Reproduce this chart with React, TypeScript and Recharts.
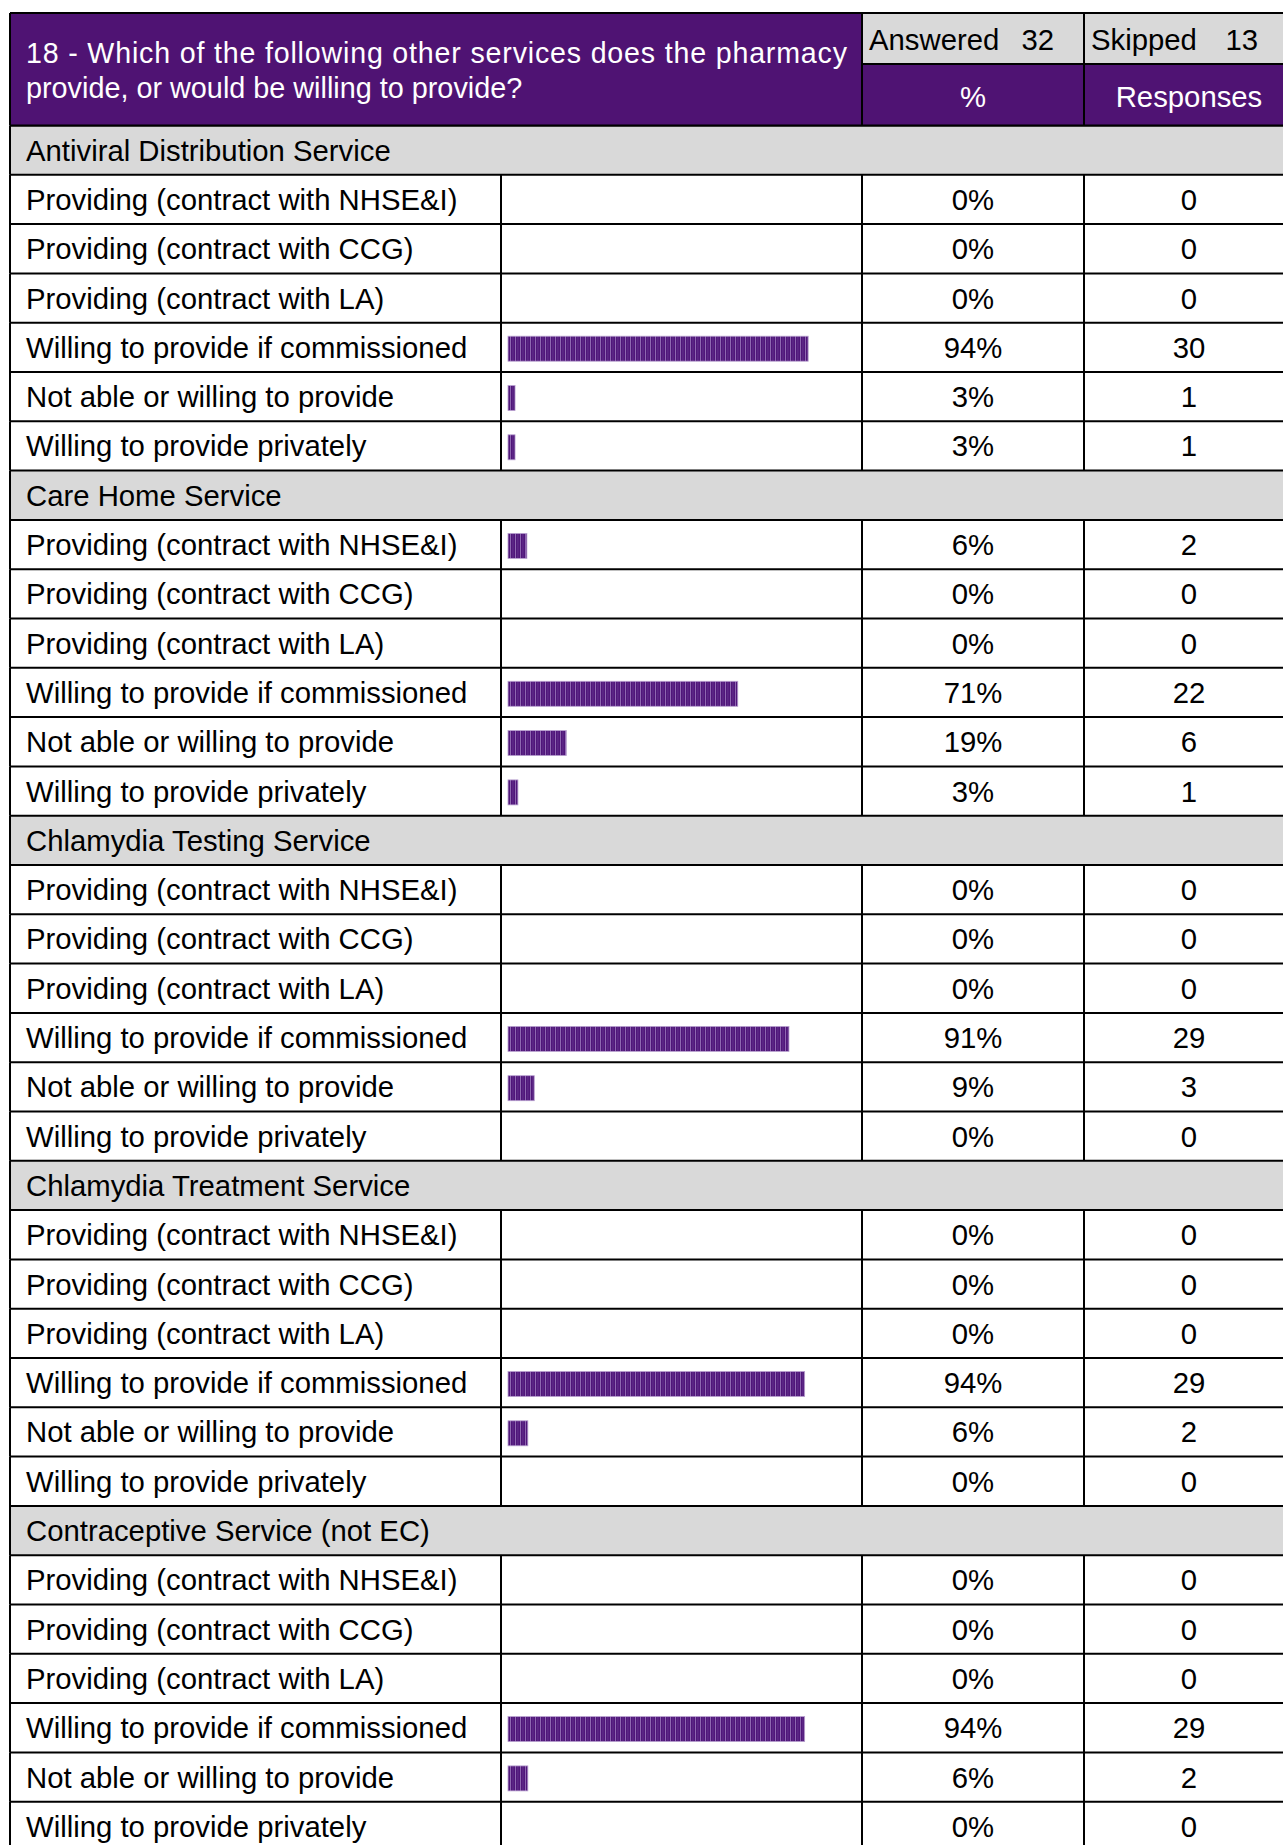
import React from 'react';
import { BarChart, Bar, XAxis, YAxis } from 'recharts';

// ---------- data ----------
const questionLine1 = '18 - Which of the following other services does the pharmacy';
const questionLine2 = 'provide, or would be willing to provide?';
const answeredLabel = 'Answered';
const answeredCount = '32';
const skippedLabel = 'Skipped';
const skippedCount = '13';
const pctHeader = '%';
const respHeader = 'Responses';

const sections = [
  'Antiviral Distribution Service',
  'Care Home Service',
  'Chlamydia Testing Service',
  'Chlamydia Treatment Service',
  'Contraceptive Service (not EC)',
];

const options = [
  'Providing (contract with NHSE&I)',
  'Providing (contract with CCG)',
  'Providing (contract with LA)',
  'Willing to provide if commissioned',
  'Not able or willing to provide',
  'Willing to provide privately',
];

const antiviralPct = ['0%', '0%', '0%', '94%', '3%', '3%'];
const careHomePct = ['6%', '0%', '0%', '71%', '19%', '3%'];
const testingPct = ['0%', '0%', '0%', '91%', '9%', '0%'];
const treatmentPct = ['0%', '0%', '0%', '94%', '6%', '0%'];
const contraceptivePct = ['0%', '0%', '0%', '94%', '6%', '0%'];

const antiviralResp = [0, 0, 0, 30, 1, 1];
const careHomeResp = [2, 0, 0, 22, 6, 1];
const testingResp = [0, 0, 0, 29, 3, 0];
const treatmentResp = [0, 0, 0, 29, 2, 0];
const contraceptiveResp = [0, 0, 0, 29, 2, 0];

// bar lengths (percent of full bar scale)
const antiviralBar = [0, 0, 0, 93.8, 2.2, 2.2];
const careHomeBar = [5.9, 0, 0, 71.8, 18.2, 3.1];
const testingBar = [0, 0, 0, 87.8, 8.2, 0];
const treatmentBar = [0, 0, 0, 92.7, 6.2, 0];
const contraceptiveBar = [0, 0, 0, 92.7, 6.2, 0];

const pctBySection = [antiviralPct, careHomePct, testingPct, treatmentPct, contraceptivePct];
const respBySection = [antiviralResp, careHomeResp, testingResp, treatmentResp, contraceptiveResp];
const barBySection = [antiviralBar, careHomeBar, testingBar, treatmentBar, contraceptiveBar];

type Row = {
  key: string;
  kind: 'section' | 'item';
  label: string;
  pct: string;
  resp: string;
  bar: number;
};

const rows: Row[] = [];
sections.forEach((s, si) => {
  rows.push({ key: `s${si}`, kind: 'section', label: s, pct: '', resp: '', bar: 0 });
  options.forEach((o, oi) => {
    rows.push({
      key: `s${si}o${oi}`,
      kind: 'item',
      label: o,
      pct: pctBySection[si][oi],
      resp: String(respBySection[si][oi]),
      bar: barBySection[si][oi],
    });
  });
});
const rowByKey: Record<string, Row> = {};
rows.forEach((r) => (rowByKey[r.key] = r));

// ---------- layout / style ----------
const W = 1283;
const H = 1845;
const TABLE_L = 10;
const TABLE_R = 1294;
const COL_BAR = 501;
const COL_PCT = 862;
const COL_RESP = 1084;
const HEADER_TOP = 13;
const HEADER_MID = 64;
const HEADER_BOT = 125.5;
const ROW_H = 49.3;
const PLOT_L = 508;
const PLOT_W = 320;
const AXIS_W = 40;
const CHART_H = HEADER_BOT + ROW_H * 35;
const PURPLE = '#4F1373';
const GRAY = '#D9D9D9';
const FONT = '"Liberation Sans", Arial, Helvetica, sans-serif';
const FS = 29.3;
const LW = 2;
const BASE_OFF = 10.5;

const renderRow = (props: any) => {
  const { y, payload } = props;
  const row = rowByKey[payload?.value];
  if (!row) return <g />;
  const top = y - ROW_H / 2;
  const bot = y + ROW_H / 2;
  const base = y + BASE_OFF;
  if (row.kind === 'section') {
    return (
      <g>
        <rect x={TABLE_L} y={top} width={TABLE_R - TABLE_L} height={ROW_H} fill={GRAY} />
        <line x1={TABLE_L} x2={TABLE_R} y1={top} y2={top} stroke="#000" strokeWidth={LW} />
        <line x1={TABLE_L} x2={TABLE_L} y1={top} y2={bot} stroke="#000" strokeWidth={LW} />
        <text x={26} y={base} fontFamily={FONT} fontSize={FS} fill="#000">
          {row.label}
        </text>
      </g>
    );
  }
  return (
    <g>
      <line x1={TABLE_L} x2={TABLE_R} y1={top} y2={top} stroke="#000" strokeWidth={LW} />
      {[TABLE_L, COL_BAR, COL_PCT, COL_RESP].map((cx) => (
        <line key={cx} x1={cx} x2={cx} y1={top} y2={bot} stroke="#000" strokeWidth={LW} />
      ))}
      <text x={26} y={base} fontFamily={FONT} fontSize={FS} fill="#000">
        {row.label}
      </text>
      <text x={(COL_PCT + COL_RESP) / 2} y={base} textAnchor="middle" fontFamily={FONT} fontSize={FS} fill="#000">
        {row.pct}
      </text>
      <text x={(COL_RESP + TABLE_R) / 2} y={base} textAnchor="middle" fontFamily={FONT} fontSize={FS} fill="#000">
        {row.resp}
      </text>
    </g>
  );
};

const StripedBar = (props: any) => {
  const { x, y, width, height } = props;
  if (!width || width <= 0) return <g />;
  return (
    <g>
      <defs>
        <pattern id="barStripe" patternUnits="userSpaceOnUse" x={0} y={0} width={5} height={10}>
          <rect x={0} y={0} width={5} height={10} fill="#50167A" />
          <rect x={0} y={0} width={1} height={10} fill="#8E67B0" />
          <rect x={2.6} y={0} width={0.7} height={10} fill="#6C3E95" />
        </pattern>
      </defs>
      <rect
        x={x}
        y={y + 1.5}
        width={width}
        height={height}
        fill="url(#barStripe)"
        stroke="#B8A0CF"
        strokeWidth={0.8}
      />
    </g>
  );
};

const Header = () => (
  <svg
    width={W}
    height={130}
    style={{ position: 'absolute', left: 0, top: 0 }}
    fontFamily={FONT}
  >
    <rect x={TABLE_L} y={HEADER_TOP} width={COL_PCT - TABLE_L} height={HEADER_BOT - HEADER_TOP} fill={PURPLE} />
    <rect x={COL_PCT} y={HEADER_TOP} width={TABLE_R - COL_PCT} height={HEADER_MID - HEADER_TOP} fill={GRAY} />
    <rect x={COL_PCT} y={HEADER_MID} width={TABLE_R - COL_PCT} height={HEADER_BOT - HEADER_MID} fill={PURPLE} />
    <line x1={TABLE_L} x2={TABLE_R} y1={HEADER_TOP} y2={HEADER_TOP} stroke="#000" strokeWidth={LW} />
    <line x1={COL_PCT} x2={TABLE_R} y1={HEADER_MID} y2={HEADER_MID} stroke="#000" strokeWidth={LW} />
    <line x1={TABLE_L} x2={TABLE_R} y1={HEADER_BOT} y2={HEADER_BOT} stroke="#000" strokeWidth={LW} />
    <line x1={TABLE_L} x2={TABLE_L} y1={HEADER_TOP} y2={HEADER_BOT} stroke="#000" strokeWidth={LW} />
    <line x1={COL_PCT} x2={COL_PCT} y1={HEADER_TOP} y2={HEADER_BOT} stroke="#000" strokeWidth={LW} />
    <line x1={COL_RESP} x2={COL_RESP} y1={HEADER_TOP} y2={HEADER_BOT} stroke="#000" strokeWidth={LW} />
    <text x={26} y={63} fontSize={28.6} fill="#fff" textLength={821} lengthAdjust="spacing">
      {questionLine1}
    </text>
    <text x={26} y={98} fontSize={28.8} fill="#fff">
      {questionLine2}
    </text>
    <text x={869} y={50} fontSize={FS} fill="#000">{answeredLabel}</text>
    <text x={1054} y={50} fontSize={FS} fill="#000" textAnchor="end">{answeredCount}</text>
    <text x={1091} y={50} fontSize={FS} fill="#000">{skippedLabel}</text>
    <text x={1258} y={50} fontSize={FS} fill="#000" textAnchor="end">{skippedCount}</text>
    <text x={(COL_PCT + COL_RESP) / 2} y={107} fontSize={FS} fill="#fff" textAnchor="middle">{pctHeader}</text>
    <text x={(COL_RESP + TABLE_R) / 2} y={107} fontSize={FS} fill="#fff" textAnchor="middle">{respHeader}</text>
  </svg>
);

export default function App() {
  return (
    <div
      style={{
        position: 'absolute',
        left: 0,
        top: 0,
        width: W,
        height: H,
        overflow: 'hidden',
        background: '#fff',
      }}
    >
      <BarChart
        width={W}
        height={CHART_H}
        data={rows}
        layout="vertical"
        margin={{ top: HEADER_BOT, right: W - PLOT_L - PLOT_W, bottom: 0, left: PLOT_L - AXIS_W }}
        barCategoryGap={0}
      >
        <XAxis type="number" domain={[0, 100]} hide />
        <YAxis
          type="category"
          dataKey="key"
          width={AXIS_W}
          interval={0}
          axisLine={false}
          tickLine={false}
          minTickGap={0}
          tick={renderRow}
        />
        <Bar dataKey="bar" barSize={25} isAnimationActive={false} shape={<StripedBar />} />
      </BarChart>
      <Header />
    </div>
  );
}
